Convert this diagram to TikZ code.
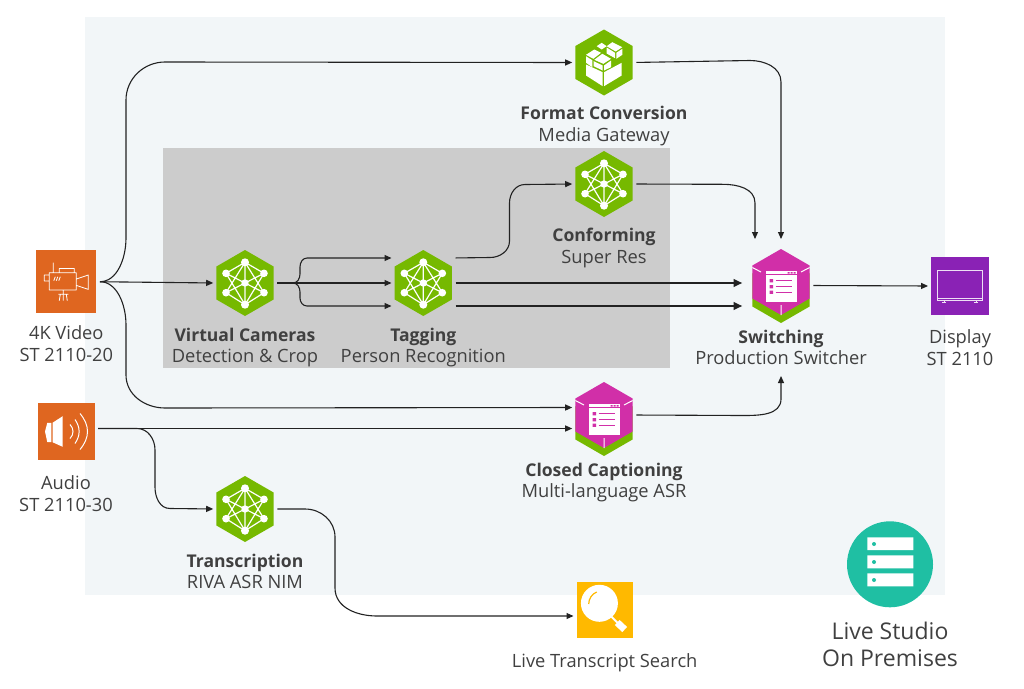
\documentclass[tikz,border=0pt]{standalone}
\usepackage{fontspec}
\setmainfont{Open Sans}[BoldFeatures={Scale=0.96}]
\usetikzlibrary{shapes.geometric}
\usetikzlibrary{positioning}
\usetikzlibrary{arrows.meta}
\definecolor{nvgreen}{HTML}{76B900}
\definecolor{nvpink}{HTML}{D12FA8}
\definecolor{nvorange}{HTML}{DF6620}
\definecolor{nvpurple}{HTML}{8A22B5}
\definecolor{nvyellow}{HTML}{FFB900}
\definecolor{nvteal}{HTML}{1FBFA3}
\definecolor{panelblue}{HTML}{F2F6F8}
\definecolor{panelgray}{HTML}{CCCCCC}
\definecolor{inktext}{HTML}{404040}
\definecolor{inkline}{HTML}{222222}
\tikzset{
hexa/.style={ % green or pink hexagon behind an icon
regular polygon, regular polygon sides=6, shape border rotate=30,
minimum size=66pt, inner sep=0pt, fill=#1},
hexa/.default=nvgreen,
tile/.style={ % square icon tile
rectangle, minimum width=#1, minimum height=#1, inner sep=0pt},
caption/.style={
inner sep=0pt, align=center, text=inktext,
font=\fontsize{18.3}{21.7}\selectfont,
execute at begin node=\strut},
link/.style={
draw=inkline, line width=1.1pt,
-{Triangle[length=7pt,width=6pt]},
shorten <=3.5pt, shorten >=3pt},
thicklink/.style={
link, line width=1.8pt,
-{Triangle[length=8.5pt,width=7.5pt]}, shorten >=10pt},
pics/netglyph/.style={code={
\draw[white, line width=1.2pt, line join=round]
(0,-20.7) -- (-19,-9.7) -- (0,21.7) -- (19,-9.7) -- (0,-20.7) -- (-19,9.7) -- (0,21.7) -- (19,9.7) -- cycle
(-19,-9.7) -- (19,9.7) (19,-9.7) -- (-19,9.7) (0,-20.7) -- (0,21.7);
\fill[white] (0,-20.7) circle (4pt) (0,21.7) circle (4pt) (0,0) circle (3.7pt)
(-19,-9.7) circle (3.8pt) (19,-9.7) circle (3.8pt) (-19,9.7) circle (3.8pt) (19,9.7) circle (3.8pt);
}},
pics/cubeglyph/.style={code={
\fill[white] (-7.3,-16.3) -- (-2.3,-19.7) -- (2.7,-16.3) -- (-2.3,-13) -- cycle;
\fill[white] (2.7,-16.3) -- (8.3,-20.3) -- (18.3,-15.3) -- (11.7,-11) -- cycle;
\fill[white] (2.7,-15) -- (11,-9.7) -- (11,-4.3) -- (2.7,-9) -- cycle;
\fill[white] (12.3,-9.7) -- (18.3,-13.7) -- (18.3,-7.7) -- (12.3,-3.7) -- cycle;
\fill[white] (-18,-7.7) -- (-9.7,-13) -- (-3,-9.7) -- (-10.7,-3.7) -- cycle;
\fill[white] (-18,-6.3) -- (-11.7,-2.3) -- (-11.7,4.7) -- (-18,.3) -- cycle;
\fill[white] (-9.7,-2.7) -- (-1.7,-8.7) -- (7,-3.7) -- (-.7,1.3) -- cycle;
\fill[white] (-10.3,-1.3) -- (-1.3,3) -- (-1.3,8) -- (-10.3,3.7) -- cycle;
\fill[white] (0,3) -- (7,-2) -- (7,4.7) -- (0,8) -- cycle;
\fill[white] (-18,2) -- (-1.3,9.7) -- (-1.3,23.7) -- (-18,13) -- cycle;
\fill[white] (0,9.7) -- (17.7,.3) -- (17.7,13) -- (0,23.7) -- cycle;
}},
pics/appglyph/.style={code={
\draw[white, line width=1pt] (-28.6,-14.5) -- (-20,-10) (28.6,-14.5) -- (20,-10) (0,23) -- (0,33);
\fill[white] (-15.3,-11) rectangle (15.7,19.5);
\draw[nvpink, line width=.8pt] (-15.3,-7.2) -- (15.7,-7.2);
\fill[nvpink] (6.5,-9.8) rectangle (8.5,-8.4) (9.5,-9.8) rectangle (11.5,-8.4) (12.5,-9.8) rectangle (14.5,-8.4);
\fill[nvpink] (-11.5,-3) rectangle (-8,.3) (-11.5,3) rectangle (-8,6.3) (-11.5,8.6) rectangle (-8,11.9);
\draw[nvpink, line width=1pt] (-5.3,-1.3) -- (11,-1.3) (-5.3,4.7) -- (11,4.7) (-5.3,10.3) -- (11,10.3);
}},
pics/camglyph/.style={code={
\draw[white, line width=.8pt, line join=round]
(-17,-9) rectangle (10,8.3) (-7,-9) -- (-7,-13.3) -- (8,-13.3) -- (8,-9)
(10,-2.7) -- (22,-6.7) -- (22,7.7) -- (10,3.7)
(-17,-6.7) -- (-22,-6.7) -- (-22,-.7) -- (-17,-.7)
(-13,-9) -- (-13,-19)
(-3,8.3) -- (-3,12.5) (-8,12.5) -- (2,12.5)
(-6,12.5) -- (-7,19) (-3,12.5) -- (-3,19) (0,12.5) -- (1,19)
(-12.5,-1) -- (-11,-5) (-10,-1) -- (-8.5,-5) (-7.5,-1) -- (-6,-5);
}},
pics/speakerglyph/.style={code={
\fill[white] (-21,0) -- (-18.7,-8.7) -- (-14.7,-8.7) -- (-14.7,10.7) -- (-18.7,10.7) -- cycle;
\fill[white] (-13.5,-8.7) -- (-3.3,-15.3) -- (-3.3,15.3) -- (-13.5,10.7) -- cycle;
\draw[white, line width=1pt]
(4,-7) .. controls (8,-3) and (8,3) .. (4,7)
(9,-12) .. controls (14.5,-4) and (14.5,4) .. (9,12)
(14,-18) .. controls (24,-6) and (24,6) .. (14,18);
}},
pics/tvglyph/.style={code={
\draw[white!85!nvpurple, line width=1pt] (-22.7,-15.3) rectangle (22.7,14) (-22.7,12) -- (22.7,12)
(-16,14) -- (-16,16.5) (-18,16.5) -- (-14,16.5) (16,14) -- (16,16.5) (14,16.5) -- (18,16.5);
}},
pics/lensglyph/.style={code={
\fill[white] (-5.3,-6.7) circle (18.5pt);
\draw[nvyellow, line width=1.2pt] (-16,-6) .. controls (-16,-11) and (-13,-16) .. (-8,-18);
\draw[white, line width=2pt] (6,6) -- (13,13);
\draw[white, line width=7pt] (12.5,12.5) -- (20,19.5);
}}}

\begin{document}
\begin{tikzpicture}[x=1pt, y=-1pt]
    \useasboundingbox (0,0) rectangle (1024,688);
    \fill[panelblue] (85,17) rectangle (945,595);
    \fill[panelgray] (163,148) rectangle (670,368);

    % sources
    \node[tile=60pt, minimum height=63pt, fill=nvorange] (cam) at (66.3,281.7) {};
    \node[tile=57pt, fill=nvorange] (audio) at (66,431.5) {};
    \pic at (cam) {camglyph};
    \pic at (audio) {speakerglyph};
    \node[caption, below=12pt of cam] (camtext) {4K Video\\ST 2110-20};
    \node[caption, below=15pt of audio] (audiotext) {Audio\\ST 2110-30};

    % processing blocks
    \node[hexa] (fmt) at (604,62.5) {};
    \node[hexa] (conf) at (604,184) {};
    \node[hexa] (vcam) at (245,283) {};
    \node[hexa] (tag) at (423.3,283) {};
    \node[hexa] (transc) at (245,509) {};
    \node[hexa] (ccbase) at (604,423) {};
    \node[hexa=nvpink] (cc) at (604,415) {};
    \node[hexa] (swbase) at (781,290) {};
    \node[hexa=nvpink] (sw) at (781,282) {};
    \pic at (fmt) {cubeglyph};
    \pic at (conf) {netglyph};
    \pic at (vcam) {netglyph};
    \pic at (tag) {netglyph};
    \pic at (transc) {netglyph};
    \pic at (cc) {appglyph};
    \pic at (sw) {appglyph};
    \node[caption, below=10.5pt of fmt] (fmttext) {\textbf{Format Conversion}\\Media Gateway};
    \node[caption, below=11pt of conf] (conftext) {\textbf{Conforming}\\Super Res};
    \node[caption, below=11.5pt of vcam] (vcamtext) {\textbf{Virtual Cameras}\\Detection \& Crop};
    \node[caption, below=11.5pt of tag] (tagtext) {\textbf{Tagging}\\Person Recognition};
    \node[caption, below=11.5pt of transc] (transctext) {\textbf{Transcription}\\RIVA ASR NIM};
    \node[caption, below=14.5pt of cc] (cctext) {\textbf{Closed Captioning}\\Multi-language ASR};
    \node[caption, below=14.5pt of sw] (swtext) {\textbf{Switching}\\Production Switcher};

    % outputs
    \node[tile=57.5pt, fill=nvpurple] (disp) at (960,286) {};
    \node[tile=56pt, fill=nvyellow] (search) at (604.7,610) {};
    \pic at (disp) {tvglyph};
    \pic at (search) {lensglyph};
    \node[caption, below=14.5pt of disp] (disptext) {Display\\ST 2110};
    \node[caption, below=13.5pt of search] (searchtext) {Live Transcript Search};

    % site badge
    \node[circle, minimum size=86pt, inner sep=0pt, fill=nvteal] (site) at (890,564.3) {};
    \fill[white] (867.3,537.3) rectangle (913.3,550) (867.3,555.3) rectangle (913.3,568.3) (867.3,573.3) rectangle (913.3,586.3);
    \fill[nvteal] (874,544) circle (2pt) (874,562) circle (2pt) (874,580) circle (2pt);
    \node[caption, font=\fontsize{23}{27}\selectfont, below=14pt of site] (sitetext) {Live Studio\\On Premises};

    \coordinate (swunder) at (781,373);

    \draw[link] (cam.east) to[out=0,in=-90] (126,238) -- (126,100) to[out=90,in=180] (165,62) -- (fmt.west);
    \draw[link] (cam.east) -- (vcam.west);
    \draw[link] (cam.east) to[out=0,in=90] (126,325) -- (126,375) to[out=-90,in=180] (165,408) -- ([yshift=7.5pt]cc.west);
    \draw[link] ([yshift=3pt]audio.east) -- ([yshift=-13.5pt]cc.west);
    \draw[link] ([yshift=3pt]audio.east) -- (137,428.5) to[out=0,in=90] (155,450) -- (155,487) to[out=-90,in=180] (170,508.5) -- (transc.west);
    \draw[link] (vcam.east) -- (tag.west);
    \draw[link] (vcam.east) -- (293,283) to[out=0,in=-90] (300,274) -- (300,267) to[out=90,in=180] (307,258) -- ([yshift=25pt]tag.west);
    \draw[link] (vcam.east) -- (293,283) to[out=0,in=90] (300,292) -- (300,298) to[out=-90,in=180] (307,306) -- ([yshift=-23pt]tag.west);
    \draw[link] ([yshift=25pt]tag.east) -- (490,257.5) to[out=0,in=-90] (509.5,241) -- (509.5,203) to[out=90,in=180] (525,184.5) -- (conf.west);
    \draw[thicklink] (tag.east) -- ([yshift=-1pt]sw.west);
    \draw[thicklink] ([yshift=-23pt]tag.east) -- ([yshift=-24pt]sw.west);
    \draw[link] (conf.east) -- (723,184.3) to[out=0,in=90] (755,203) -- (755,242);
    \draw[link] (fmt.east) -- (750,60.5) to[out=0,in=90] (781,82) -- (781,242);
    \draw[link] (cc.east) -- (743,415.5) to[out=0,in=-90] (781,399) -- (swunder);
    \draw[link] ([yshift=-3.5pt]sw.east) -- (disp.west);
    \draw[link] (transc.east) -- (305,509) to[out=0,in=90] (335,537) -- (335,588) to[out=-90,in=180] (377,616) -- ([yshift=-6pt]search.west);
  \end{tikzpicture}
\end{document}
